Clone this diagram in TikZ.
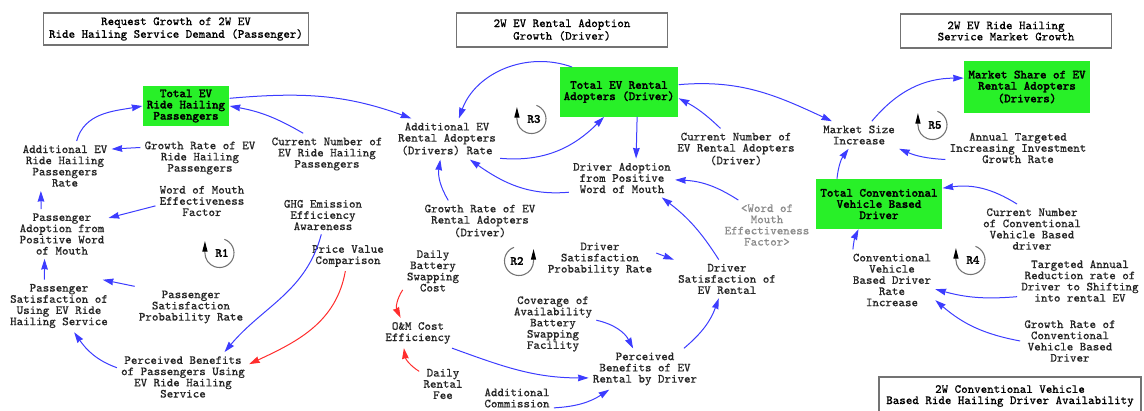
\documentclass[tikz,border=0pt]{standalone}
\usepackage{fontspec}
\newfontfamily\boldmono{Latin Modern Mono}[FakeBold=2.2]
\newfontfamily\varmono{Latin Modern Mono}[FakeBold=0.3]
\usetikzlibrary{arrows.meta}
\definecolor{linkblue}{RGB}{60,60,255}
\definecolor{linkred}{RGB}{255,45,45}
\definecolor{stockgreen}{RGB}{40,240,40}
\tikzset{>={Stealth[length=8pt,width=5pt,inset=0.5pt]}}
\tikzset{
  var/.style={align=center, inner sep=3pt, font=\varmono\fontsize{9.3}{8.4}\selectfont, text=black!85},
  shadowvar/.style={var, text=black!45},
  stock/.style={var, fill=stockgreen, font=\boldmono\fontsize{9.3}{8.4}\selectfont, text=black},
  titlebox/.style={draw=black!55, line width=1pt, align=center, font=\varmono\fontsize{9.3}{8.4}\selectfont},
  link/.style={linkblue, line width=0.75pt, ->},
  neglink/.style={linkred, line width=0.75pt, ->},
  loopname/.style={inner sep=0pt, font=\boldmono\fontsize{9.3}{8.4}\selectfont},
  looparc/.style={black!55, line width=0.8pt, -{Stealth[length=8pt,width=3.8pt,inset=0pt,color=black]}},
}

\begin{document}
\begin{tikzpicture}[x=0.75pt,y=0.75pt]
\useasboundingbox (0,0) rectangle (1144,-410);

\node[titlebox, minimum width=199pt, minimum height=24pt] (t1) at (176,-29) {Request Growth of 2W EV\\Ride Hailing Service Demand (Passenger)};
\node[titlebox, minimum width=158pt, minimum height=25.5pt] (t2) at (562,-30) {2W EV Rental Adoption\\Growth (Driver)};
\node[titlebox, minimum width=158pt, minimum height=25.5pt] (t3) at (1006,-31) {2W EV Ride Hailing\\Service Market Growth};
\node[titlebox, minimum width=196.5pt, minimum height=28.5pt] (t4) at (1010,-396) {2W Conventional Vehicle\\Based Ride Hailing Driver Availability};

\node[stock, minimum width=65pt, minimum height=26pt] (g1) at (186,-106) {Total EV\\Ride Hailing\\Passengers};
\node[stock, minimum width=88pt, minimum height=37pt] (g2) at (619,-92) {Total EV Rental\\Adopters (Driver)};
\node[stock, minimum width=94.5pt, minimum height=39pt] (g3) at (1027,-87) {Market Share of EV\\Rental Adopters\\(Drivers)};
\node[stock, minimum width=95pt, minimum height=37.5pt] (g4) at (879,-204) {Total Conventional\\Vehicle Based\\Driver};

\node[var] (addp) at (65,-166) {Additional EV\\Ride Hailing\\Passengers\\Rate};
\node[var] (grp) at (200,-158) {Growth Rate of EV\\Ride Hailing\\Passengers};
\node[var] (curp) at (327,-154) {Current Number of\\EV Ride Hailing\\Passengers};
\node[var] (wom) at (202,-201) {Word of Mouth\\Effectiveness\\Factor};
\node[var] (padopt) at (62,-234) {Passenger\\Adoption from\\Positive Word\\of Mouth};
\node[var] (ghg) at (323,-215) {GHG Emission\\Efficiency\\Awareness};
\node[var] (pvc) at (348,-256) {Price Value\\Comparison};
\node[var] (psat) at (59,-306) {Passenger\\Satisfaction of\\Using EV Ride\\Hailing Service};
\node[var] (psp) at (191,-307) {Passenger\\Satisfaction\\Probability Rate};
\node[var] (pben) at (183,-377) {Perceived Benefits\\of Passengers Using\\EV Ride Hailing\\Service};

\node[var] (addr) at (447,-139) {Additional EV\\Rental Adopters\\(Drivers) Rate};
\node[var] (dadopt) at (622,-178) {Driver Adoption\\from Positive\\Word of Mouth};
\node[var] (curr) at (736,-149) {Current Number of\\EV Rental Adopters\\(Driver)};
\node[var] (grr) at (480,-221) {Growth Rate of EV\\Rental Adopters\\(Driver)};
\node[shadowvar] (womr) at (767,-225) {<Word of\\Mouth\\Effectiveness\\Factor>};
\node[var] (dbsc) at (433,-271) {Daily\\Battery\\Swapping\\Cost};
\node[var] (dsp) at (600,-259) {Driver\\Satisfaction\\Probability Rate};
\node[var] (dsat) at (727,-279) {Driver\\Satisfaction of\\EV Rental};
\node[var] (om) at (418,-333) {O\&M Cost\\Efficiency};
\node[var] (cov) at (553,-324) {Coverage of\\Availability\\Battery\\Swapping\\Facility};
\node[var] (dben) at (645,-369) {Perceived\\Benefits of EV\\Rental by Driver};
\node[var] (drf) at (443,-384) {Daily\\Rental\\Fee};
\node[var] (comm) at (517,-398) {Additional\\Commission};

\node[var] (msi) at (859,-135) {Market Size\\Increase};
\node[var] (atig) at (1018,-148) {Annual Targeted\\Increasing Investment\\Growth Rate};
\node[var] (cncv) at (1032,-229) {Current Number\\of Conventional\\Vehicle Based\\driver};
\node[var] (cvr) at (892,-280) {Conventional\\Vehicle\\Based Driver\\Rate\\Increase};
\node[var] (tar) at (1080,-281) {Targeted Annual\\Reduction rate of\\Driver to Shifting\\into rental EV};
\node[var] (grcv) at (1070,-341) {Growth Rate of\\Conventional\\Vehicle Based\\Driver};

\node[loopname] (r1) at (222,-253) {R1};
\node[loopname] (r2) at (517,-261) {R2};
\node[loopname] (r3) at (534,-119) {R3};
\node[loopname] (r4) at (973,-260) {R4};
\node[loopname] (r5) at (935,-125) {R5};
\draw[looparc] ([xshift=-1.9pt]r1.center) ++(70:10.9pt) arc[start angle=70, end angle=-180, radius=10.9pt] -- ++(0,9pt);
\draw[looparc] ([xshift=1.5pt]r2.center) ++(110:10.9pt) arc[start angle=110, end angle=360, radius=10.9pt] -- ++(0,9pt);
\draw[looparc] ([xshift=-1.9pt]r3.center) ++(70:10.9pt) arc[start angle=70, end angle=-180, radius=10.9pt] -- ++(0,9pt);
\draw[looparc] ([xshift=-1.9pt]r4.center) ++(70:10.9pt) arc[start angle=70, end angle=-180, radius=10.9pt] -- ++(0,9pt);
\draw[looparc] ([xshift=-1.9pt]r5.center) ++(70:10.9pt) arc[start angle=70, end angle=-180, radius=10.9pt] -- ++(0,9pt);

\draw[link] (addp.65) to[out=75, in=190] (g1.west);
\draw[link] (curp.139) to[bend right=10] (g1.east);
\draw[link] (g1.10) to[out=5, in=160] (addr.150);
\draw[link] (grp.170) -- (addp.20);
\draw[link] (wom.186) -- (padopt.19);
\draw[link] (padopt.130) -- (addp.226);
\draw[link] (psat.119) -- (padopt.235);
\draw[link] (psp.north west) -- (psat.31);
\draw[link] (pben.172) to[out=160, in=-55] (psat.-60);
\draw[link] (ghg.-95) to[out=-105, in=50] (pben.31);
\draw[neglink] (pvc.-100) to[out=-100, in=25] (pben.11);

\draw[link] (g2.152) to[out=160, in=70] (addr.60);
\draw[link] (addr.-20) to[out=-5, in=-135] (g2.239);
\draw[link] (g2.-54) -- (dadopt.54);
\draw[link] (dadopt.195) to[out=185, in=-35] (addr.318);
\draw[link] (curr.127) to[bend right=8] (g2.-6);
\draw[link] (g2.7) to[out=5, in=155] (msi.153);
\draw[link] (grr.147) to[bend left=20] (addr.252);
\draw[link] (womr.139) to[bend right=15] (dadopt.-2);
\draw[link] (dsat.113) to[bend right=10] (dadopt.334);
\draw[link] (dsp.6) -- (dsat.north west);
\draw[neglink] (dbsc.212) to[bend right=30] (om.139);
\draw[neglink] (drf.152) to[bend left=25] (om.227);
\draw[link] (om.336) to[out=-20, in=180] (dben.189);
\draw[link] (cov.5) to[bend left=25] (dben.120);
\draw[link] (comm.-15) to[bend right=15] (dben.210);
\draw[link] (dben.28) to[bend right=15] (dsat.247);

\draw[link] (msi.47) to[bend left=25] (g3.172);
\draw[link] (atig.189) to[bend left=10] (msi.south east);
\draw[link] (g4.149) to[bend left=15] (msi.233);
\draw[link] (cncv.121) to[bend right=20] (g4.14);
\draw[link] (cvr.142) to[bend left=10] (g4.231);
\draw[link] (tar.194) to[bend left=10] (cvr.348);
\draw[link] (grcv.west) to[bend left=15] (cvr.-25);
\end{tikzpicture}
\end{document}
